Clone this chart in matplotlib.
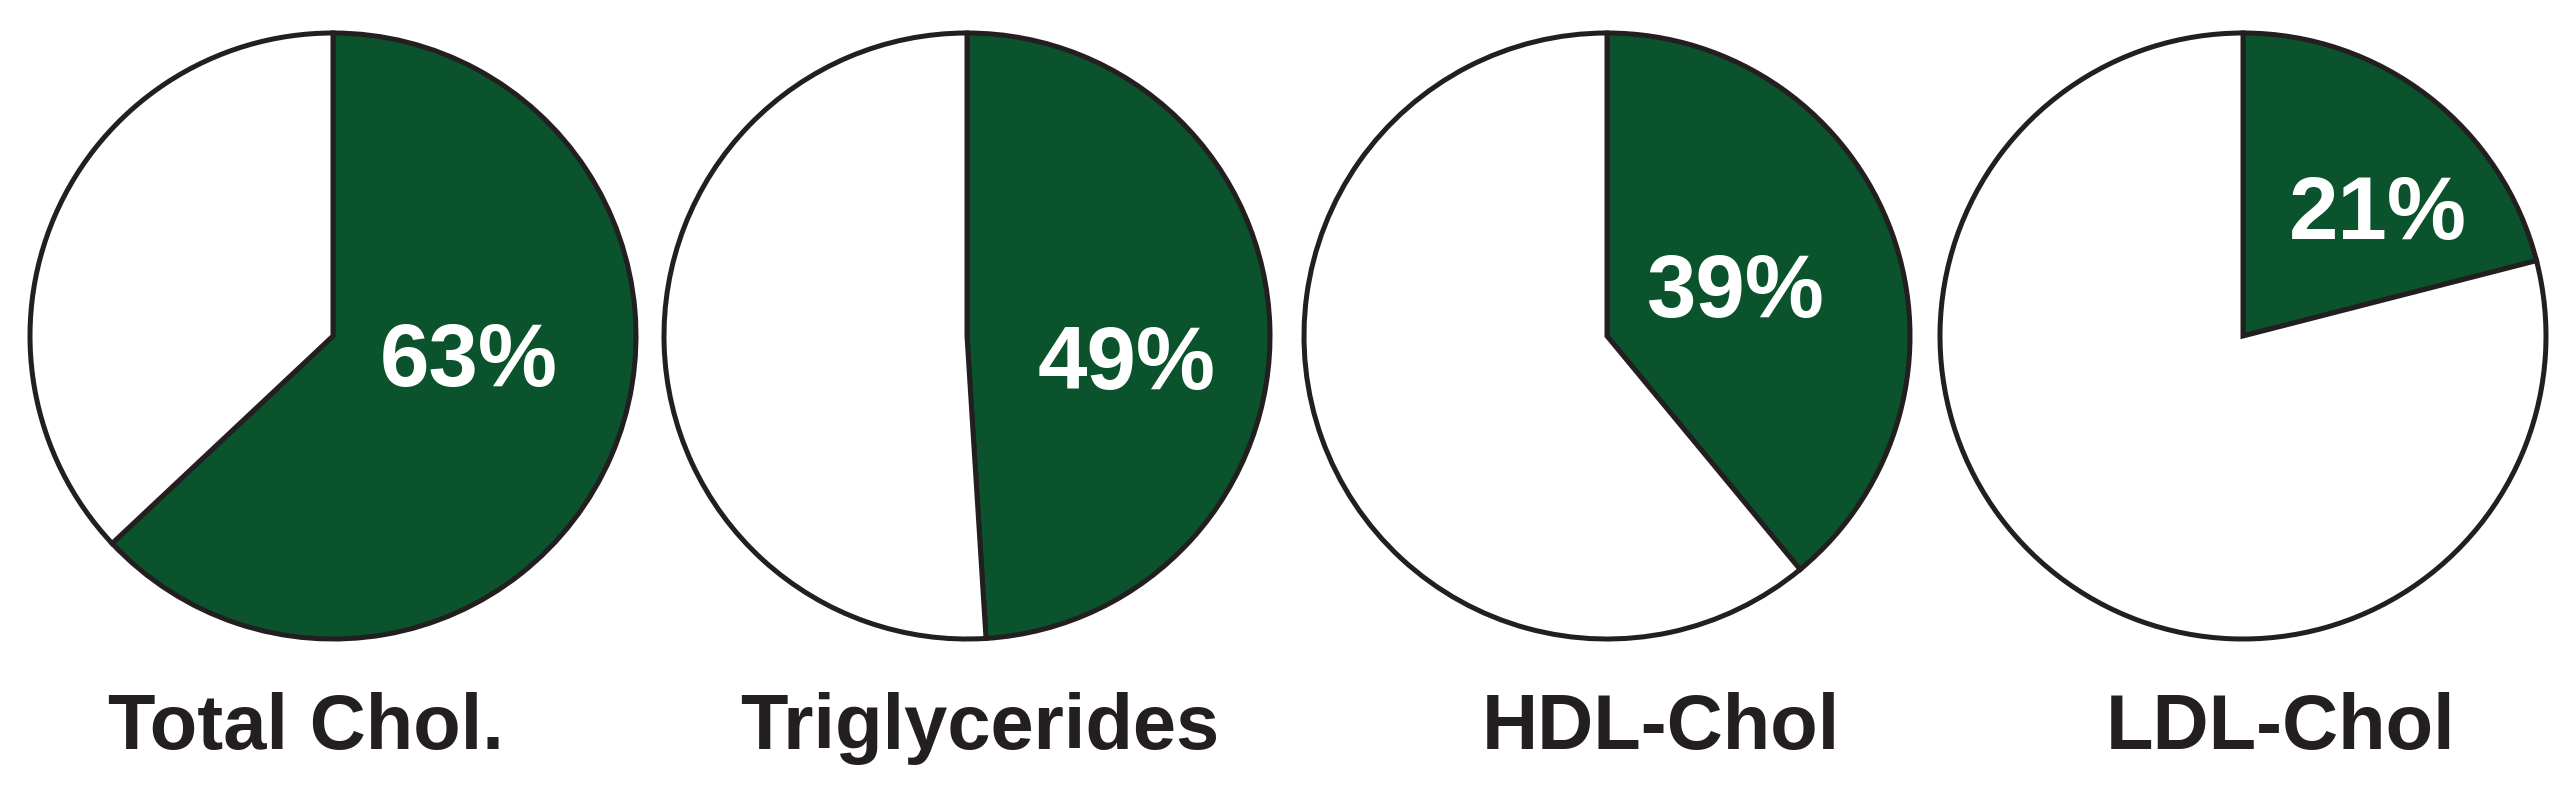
import matplotlib.pyplot as plt

# Data
categories = ['Total Chol.', 'Triglycerides', 'HDL-Chol', 'LDL-Chol']
percent = [63, 49, 39, 21]

green = '#0b532c'
edge = '#231f20'

W, H = 2571, 790
fig = plt.figure(figsize=(W / 100, H / 100), dpi=100)
ax = fig.add_axes([0, 0, 1, 1])

# layout in pixels (y measured from the top)
pie_x = [333, 967, 1607, 2243]
pie_y = 336
radius = 303
pct_pos = [(469, 363), (1127, 366), (1735, 294), (2378, 216)]
label_x = [306, 980, 1661, 2281]
label_base = 749

for i, (name, v) in enumerate(zip(categories, percent)):
    ax.pie([v, 100 - v], colors=[green, 'white'], startangle=90, counterclock=False,
           center=(pie_x[i], H - pie_y), radius=radius,
           wedgeprops=dict(edgecolor=edge, linewidth=3.6, joinstyle='miter'))
    px, py = pct_pos[i]
    ax.text(px, H - py, f'{v}%', color='white', fontsize=64, fontweight='bold',
            ha='center', va='center', family='Liberation Sans')
    ax.text(label_x[i], H - label_base, name, color=edge, fontsize=56, fontweight='bold',
            ha='center', va='baseline', family='Liberation Sans')

ax.set_xlim(0, W)
ax.set_ylim(0, H)
ax.set_aspect('equal')
ax.axis('off')

fig.savefig('out.png', dpi=100, facecolor='white')
